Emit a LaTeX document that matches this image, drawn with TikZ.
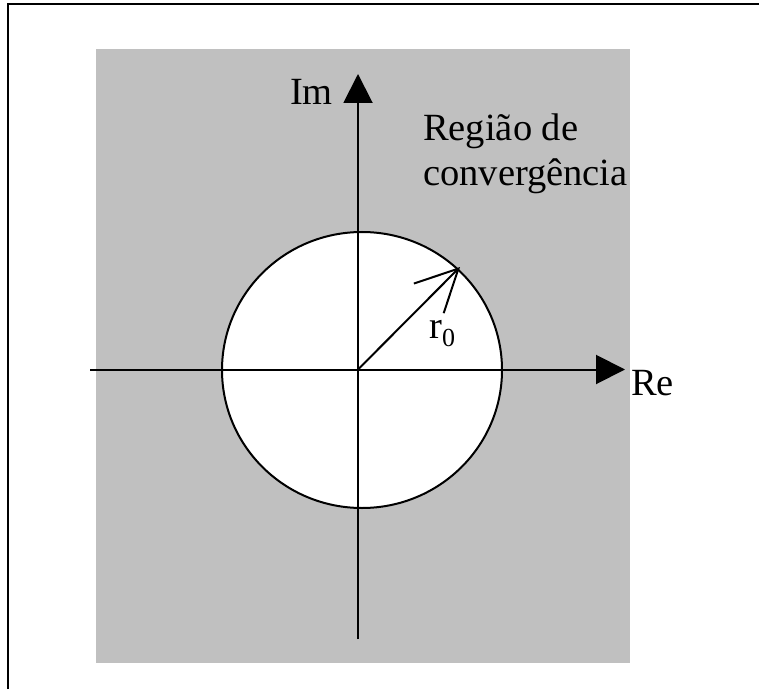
\documentclass[tikz,border=0pt]{standalone}
\usepackage{fontspec}
\setmainfont{Liberation Serif}
\usetikzlibrary{arrows.meta}
\definecolor{regiongray}{RGB}{192,192,192}
\begin{document}
\begin{tikzpicture}[x=1pt,y=1pt,
  line/.style={line width=2pt},
  axis/.style={line width=2pt,-{Triangle[length=29pt,width=29pt]}},
  radiusarrow/.style={line width=2pt,-{Straight Barb[length=42pt,width=42pt,line width=2pt]}},
  lbl/.style={inner sep=0pt,font=\fontsize{38.5}{44}\selectfont}]
\useasboundingbox (0,0) rectangle (759,689);
% frame (top and left only)
\coordinate (FL) at (8,0);
\coordinate (FC) at (8,685);
\coordinate (FR) at (759,685);
\draw[line] (FL) -- (FC) -- (FR);
% gray region
\fill[regiongray] (96,26) rectangle (630,640);
% circle
\coordinate (C) at (362,319);
\draw[line,fill=white] (C) ellipse [x radius=140, y radius=138];
% axes
\coordinate (O) at (358,319.5);
\coordinate (XL) at (90,319.5);
\coordinate (XR) at (625,319.5);
\coordinate (YB) at (358,50);
\coordinate (YT) at (358,615);
\draw[axis] (XL) -- (XR);
\draw[axis] (YB) -- (YT);
% radius arrow
\coordinate (T) at (460,422);
\draw[radiusarrow] (O) -- (T);
% labels
\node[lbl,anchor=base east] (im) at (333,584) {Im};
\node[lbl,anchor=base west] (re) at (631,294) {Re};
\node[lbl,anchor=base west] (r0) at (429,351) {r\raisebox{-0.22em}{\fontsize{26}{30}\selectfont 0}};
\node[lbl,anchor=base west] (reg1) at (423,548) {Região de};
\node[lbl,anchor=base west] (reg2) at (423,503) {convergência};
\end{tikzpicture}
\end{document}
